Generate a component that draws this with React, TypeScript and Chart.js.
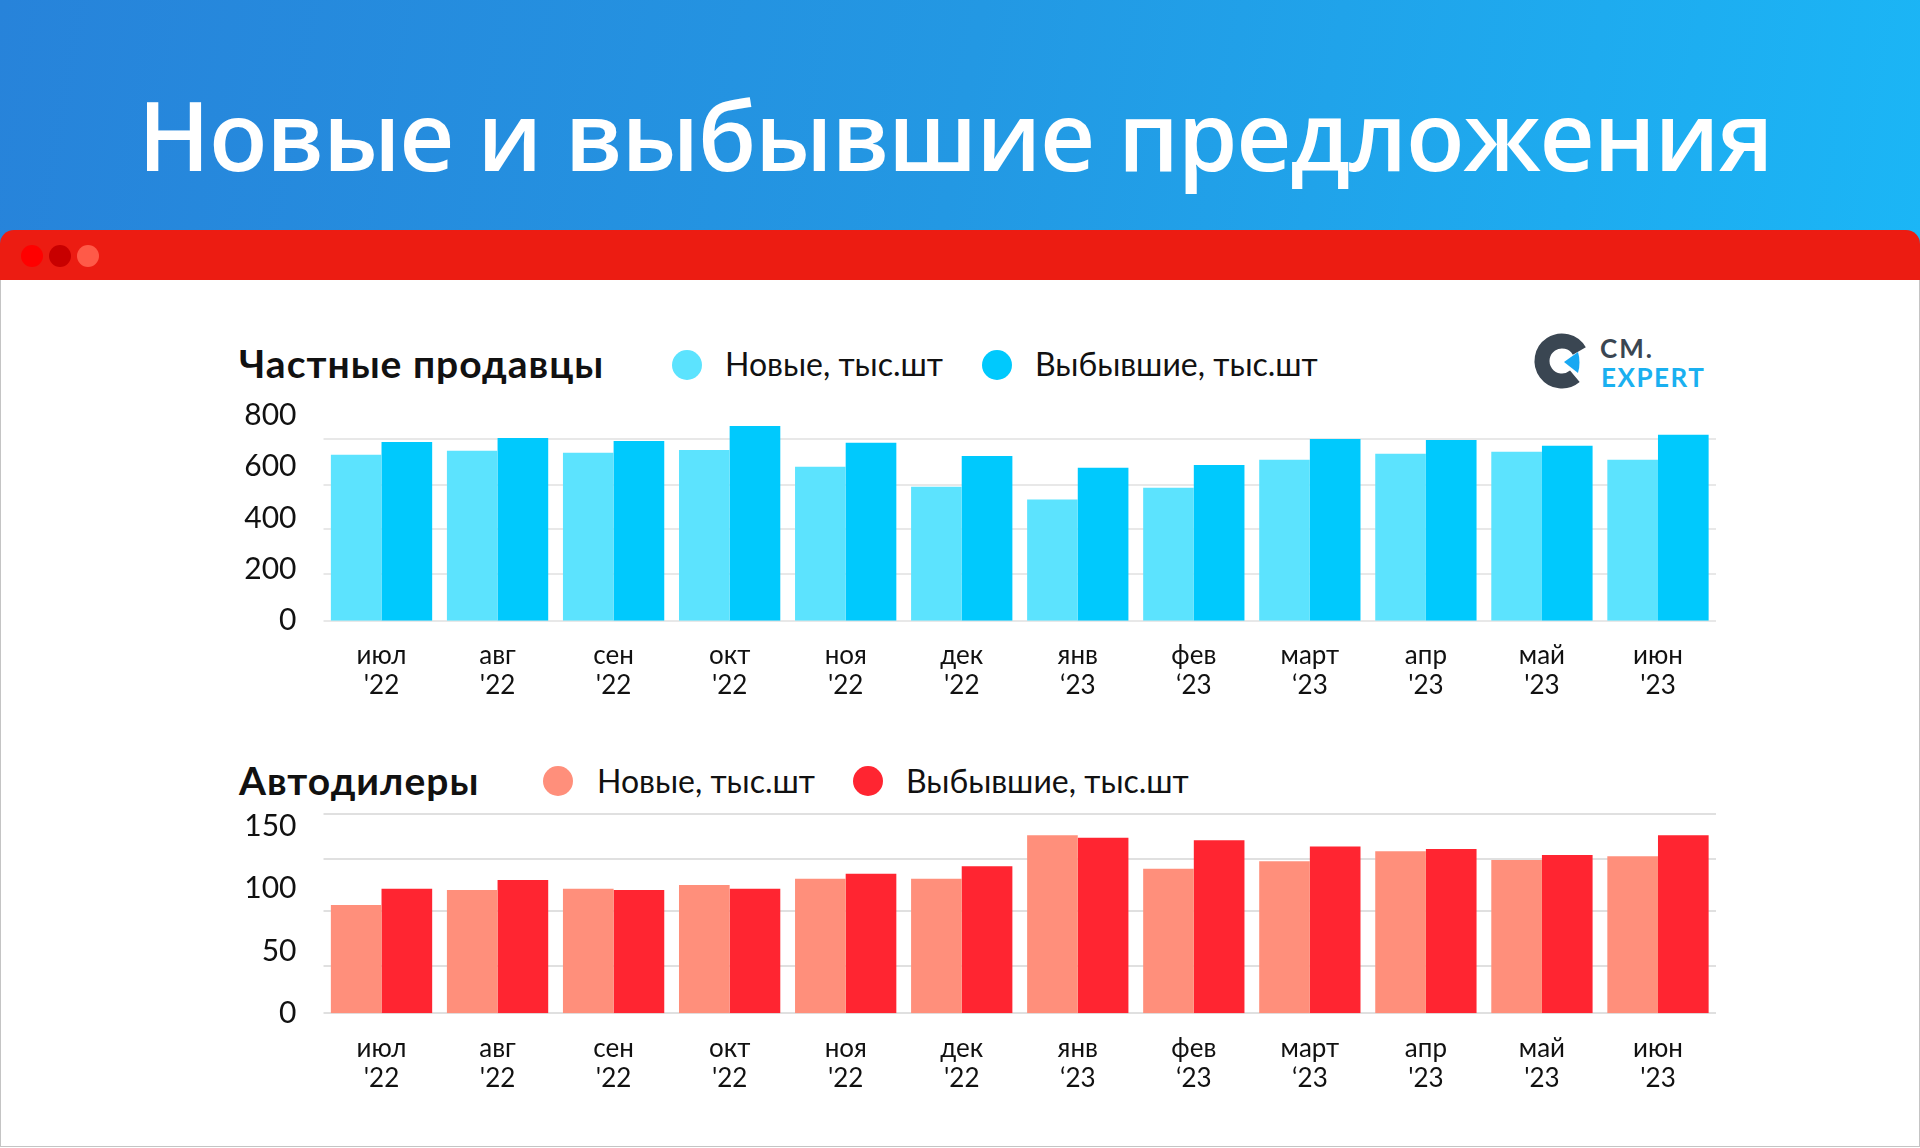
import React, { useEffect, useRef } from "react";
import { Chart, registerables } from "chart.js";

Chart.register(...registerables);

// ---- data ----
const months = ["июл", "авг", "сен", "окт", "ноя", "дек", "янв", "фев", "март", "апр", "май", "июн"];
const years = ["'22", "'22", "'22", "'22", "'22", "'22", "‘23", "‘23", "‘23", "'23", "'23", "'23"];

const privateNew = [645, 661, 653, 664, 599, 521, 471, 517, 626, 649, 657, 626];
const privateGone = [695, 711, 699, 757, 692, 641, 595, 606, 707, 703, 680, 723];
const dealerNew = [87, 99, 100, 103, 108, 108, 143, 116, 122, 130, 123, 126];
const dealerGone = [100, 107, 99, 100, 112, 118, 141, 139, 134, 132, 127, 143];

const privateTicks = [0, 200, 400, 600, 800];
const privateGrid = [0, 180, 358, 529, 706];
const dealerTicks = [0, 50, 100, 150];
const dealerGrid = [0, 38, 82, 124, 160];

const legendNew = "Новые, тыс.шт";
const legendGone = "Выбывшие, тыс.шт";

const FONT = 'Lato, "Open Sans", sans-serif';

type ChartProps = {
  left: number;
  top: number;
  width: number;
  height: number;
  newVals: number[];
  goneVals: number[];
  newColor: string;
  goneColor: string;
  max: number;
  tickVals: number[];
  gridVals: number[];
  gridColor: string;
  xHeight: number;
};

function BarChart(p: ChartProps) {
  const ref = useRef<HTMLCanvasElement | null>(null);
  useEffect(() => {
    if (!ref.current) return;
    const labels = months.map((m, i) => [m, years[i]]);
    const chart = new Chart(ref.current, {
      type: "bar",
      data: {
        labels,
        datasets: [
          { label: legendNew, data: p.newVals, backgroundColor: p.newColor, borderWidth: 0 },
          { label: legendGone, data: p.goneVals, backgroundColor: p.goneColor, borderWidth: 0 },
        ],
      },
      options: {
        responsive: false,
        animation: false,
        devicePixelRatio: 1,
        datasets: { bar: { categoryPercentage: 0.873, barPercentage: 1.0 } },
        layout: { padding: { top: 0, right: 24, bottom: 0, left: 0 } },
        plugins: { legend: { display: false }, tooltip: { enabled: false } },
        scales: {
          x: {
            grid: { display: false },
            border: { display: false },
            ticks: {
              color: "#111",
              font: { family: FONT, size: 26, lineHeight: 1.15 },
              padding: 12,
              maxRotation: 0,
              autoSkip: false,
            },
            afterFit: (s: any) => {
              s.height = p.xHeight;
            },
          },
          y: {
            min: 0,
            max: p.max,
            position: "left",
            grid: { display: false, drawTicks: false },
            border: { display: false },
            afterBuildTicks: (s: any) => {
              s.ticks = p.tickVals.map((v) => ({ value: v }));
            },
            ticks: {
              color: "#111",
              font: { family: FONT, size: 30, lineHeight: 1.2 },
              padding: 27,
            },
            afterFit: (s: any) => {
              s.width = 123.5;
            },
          },
          g: {
            type: "linear",
            min: 0,
            max: p.max,
            position: "right",
            z: 1,
            grid: { color: p.gridColor, lineWidth: 2, drawTicks: false },
            border: { display: false },
            ticks: { display: false },
            afterBuildTicks: (s: any) => {
              s.ticks = p.gridVals.map((v) => ({ value: v }));
            },
            afterFit: (s: any) => {
              s.width = 0;
            },
          },
        },
      } as any,
    });
    return () => chart.destroy();
  }, []);
  return (
    <canvas
      ref={ref}
      width={p.width}
      height={p.height}
      style={{ position: "absolute", left: p.left, top: p.top, width: p.width, height: p.height }}
    />
  );
}

function Dot({ x, y, r, color }: { x: number; y: number; r: number; color: string }) {
  return (
    <div
      style={{
        position: "absolute",
        left: x - r,
        top: y - r,
        width: 2 * r,
        height: 2 * r,
        borderRadius: "50%",
        background: color,
      }}
    />
  );
}

function Txt({
  x,
  y,
  size,
  weight,
  color,
  children,
  family,
  spacing,
}: {
  x: number;
  y: number;
  size: number;
  weight?: number;
  color?: string;
  children: React.ReactNode;
  family?: string;
  spacing?: number;
}) {
  return (
    <div
      style={{
        position: "absolute",
        left: x,
        top: y,
        fontSize: size,
        lineHeight: 1,
        fontWeight: weight || 400,
        color: color || "#111",
        fontFamily: family || FONT,
        whiteSpace: "nowrap",
        letterSpacing: spacing || 0,
      }}
    >
      {children}
    </div>
  );
}

function Logo() {
  const cx = 32;
  const cy = 31;
  const r = 20;
  const a1 = (-30 * Math.PI) / 180;
  const a2 = (50 * Math.PI) / 180;
  const p1 = [cx + r * Math.cos(a1), cy + r * Math.sin(a1)];
  const p2 = [cx + r * Math.cos(a2), cy + r * Math.sin(a2)];
  return (
    <svg width={64} height={64} style={{ position: "absolute", left: 1530, top: 330 }}>
      <path
        d={`M ${p1[0]} ${p1[1]} A ${r} ${r} 0 1 0 ${p2[0]} ${p2[1]}`}
        fill="none"
        stroke="#3a4652"
        strokeWidth={15}
      />
      <path d={`M ${cx + 2} ${cy + 1} L ${cx + 16} ${cy - 9} Q ${cx + 19} ${cy + 1} ${cx + 16} ${cy + 12} Z`} fill="#18a8f2" />
    </svg>
  );
}

export default function App() {
  return (
    <div style={{ position: "absolute", left: 0, top: 0, width: 1920, height: 1148, overflow: "hidden", background: "#fff" }}>
      <div
        style={{
          position: "absolute",
          left: 0,
          top: 0,
          width: 1920,
          height: 262,
          background: "linear-gradient(100deg, #2783da 0%, #2398e3 50%, #1bb6f6 100%)",
        }}
      />
      <Txt x={138} y={86} size={96} weight={600} color="#fff" family='"Open Sans", Lato, sans-serif' spacing={-1.2}>
        Новые и выбывшие предложения
      </Txt>
      <div
        style={{
          position: "absolute",
          left: 0,
          top: 230,
          width: 1920,
          height: 52,
          background: "#ec1c12",
          borderRadius: "14px 14px 0 0",
        }}
      />
      <Dot x={32} y={256} r={11} color="#ff0000" />
      <Dot x={60} y={256} r={11} color="#c80000" />
      <Dot x={88} y={256} r={11} color="#ff5a48" />
      <div
        style={{
          position: "absolute",
          left: 0,
          top: 280,
          width: 1920,
          height: 867,
          background: "#fff",
          boxSizing: "border-box",
          borderLeft: "1px solid #c4c4c4",
          borderRight: "1px solid #c4c4c4",
          borderBottom: "1px solid #c4c4c4",
        }}
      />

      {/* top block */}
      <Txt x={239} y={344} size={39} weight={700} spacing={1}>
        Частные продавцы
      </Txt>
      <Dot x={687} y={365} r={15} color="#5ce3fe" />
      <Txt x={725} y={348} size={32}>
        {legendNew}
      </Txt>
      <Dot x={997} y={365} r={15} color="#00c9fd" />
      <Txt x={1035} y={348} size={32}>
        {legendGone}
      </Txt>
      <Logo />
      <Txt x={1600} y={335} size={26} weight={700} color="#3a4652" spacing={2}>
        CM.
      </Txt>
      <Txt x={1601} y={364} size={26} weight={700} color="#1ab0f0" spacing={1.5}>
        EXPERT
      </Txt>

      <BarChart
        left={200}
        top={370}
        width={1540}
        height={355}
        newVals={privateNew}
        goneVals={privateGone}
        newColor="#5ce3fe"
        goneColor="#00c9fd"
        max={800}
        tickVals={privateTicks}
        gridVals={privateGrid}
        gridColor="rgba(0,0,0,0.09)"
        xHeight={104.3}
      />

      {/* bottom block */}
      <Txt x={239} y={761} size={39} weight={700} spacing={1}>
        Автодилеры
      </Txt>
      <Dot x={558} y={781} r={15} color="#ff8f7b" />
      <Txt x={597} y={765} size={32}>
        {legendNew}
      </Txt>
      <Dot x={868} y={781} r={15} color="#ff2531" />
      <Txt x={906} y={765} size={32}>
        {legendGone}
      </Txt>

      <BarChart
        left={200}
        top={769}
        width={1540}
        height={349}
        newVals={dealerNew}
        goneVals={dealerGone}
        newColor="#ff8f7b"
        goneColor="#ff2531"
        max={160}
        tickVals={dealerTicks}
        gridVals={dealerGrid}
        gridColor="rgba(0,0,0,0.12)"
        xHeight={104.7}
      />
    </div>
  );
}
